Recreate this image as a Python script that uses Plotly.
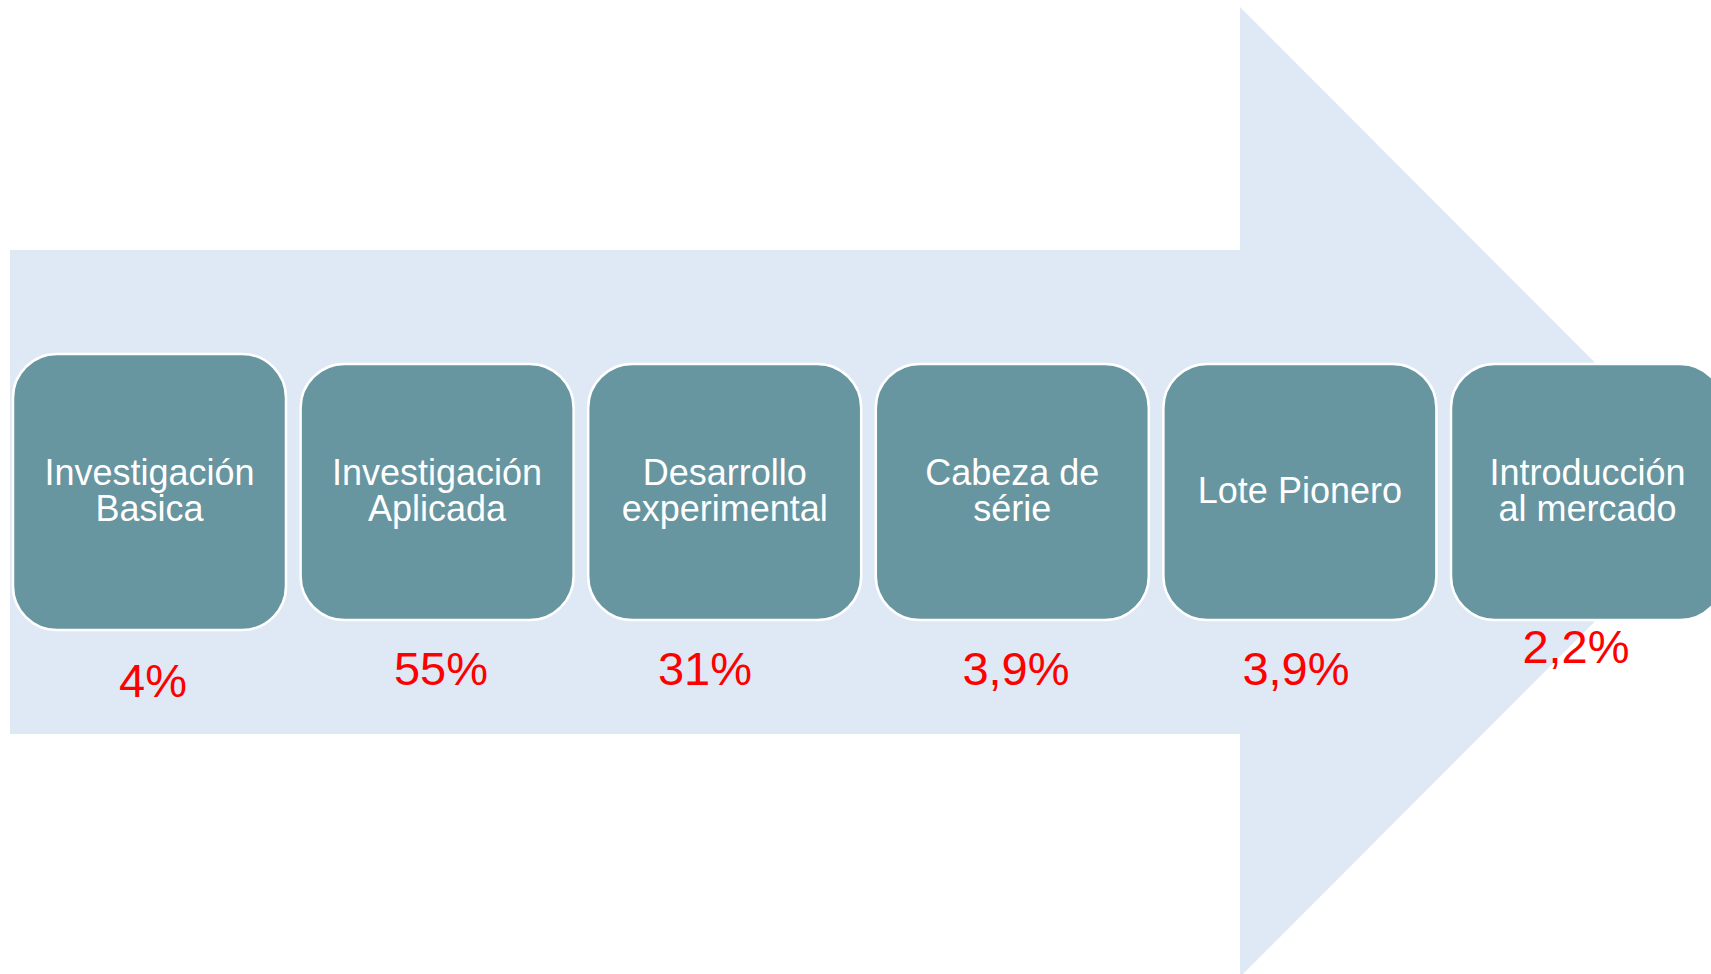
import plotly.graph_objects as go

# ---- data ----
stages = ["Investigación\nBasica", "Investigación\nAplicada", "Desarrollo\nexperimental",
          "Cabeza de\nsérie", "Lote Pionero", "Introducción\nal mercado"]
shares = [4, 55, 31, 3.9, 3.9, 2.2]

# ---- layout constants (pixel-like coordinate space) ----
W, H = 1711, 974
ARROW_COLOR = "#DEE9F5"
BOX_COLOR = "#6795A0"
FONT = "Liberation Sans, Arial, sans-serif"

box_left0, box_pitch, box_w = 13, 287.6, 273
box_top = [354, 364, 364, 364, 364, 364]
box_bot = [630, 620, 620, 620, 620, 620]
radius = 44
label_cy, line_gap = 494, 36
pct_x = [153, 441, 705, 1016, 1296, 1576]
pct_y = [685, 673, 673, 673, 673, 651]

# arrow geometry
shaft_x0, shaft_y0, shaft_y1 = 10, 250, 734
head_x, head_y0, head_y1 = 1240, 7, 977
tip_x, tip_y = 1724, 492


def fmt(v):
    return f"{v:g}".replace(".", ",") + "%"


def rounded_rect(x0, y0, x1, y1, r):
    k = 0.5523 * r
    return (f"M {x0+r},{y0} L {x1-r},{y0} "
            f"C {x1-r+k},{y0} {x1},{y0+r-k} {x1},{y0+r} "
            f"L {x1},{y1-r} "
            f"C {x1},{y1-r+k} {x1-r+k},{y1} {x1-r},{y1} "
            f"L {x0+r},{y1} "
            f"C {x0+r-k},{y1} {x0},{y1-r+k} {x0},{y1-r} "
            f"L {x0},{y0+r} "
            f"C {x0},{y0+r-k} {x0+r-k},{y0} {x0+r},{y0} Z")


shapes = []
arrow_path = (f"M {shaft_x0},{shaft_y0} L {head_x},{shaft_y0} L {head_x},{head_y0} "
              f"L {tip_x},{tip_y} L {head_x},{head_y1} L {head_x},{shaft_y1} "
              f"L {shaft_x0},{shaft_y1} Z")
shapes.append(dict(type="path", path=arrow_path, xref="x", yref="y",
                   fillcolor=ARROW_COLOR, line=dict(width=0), layer="below"))

line_x, line_y, line_t = [], [], []
for i, name in enumerate(stages):
    x0 = box_left0 + i * box_pitch
    x1 = x0 + box_w
    shapes.append(dict(type="path", path=rounded_rect(x0, box_top[i], x1, box_bot[i], radius),
                       xref="x", yref="y", fillcolor=BOX_COLOR,
                       line=dict(color="white", width=2.5), layer="below"))
    lines = name.split("\n")
    n = len(lines)
    cx = (x0 + x1) / 2
    for j, ln in enumerate(lines):
        line_x.append(cx)
        line_y.append(label_cy + (j - (n - 1) / 2) * line_gap)
        line_t.append(ln)

fig = go.Figure()
fig.add_trace(go.Scatter(x=line_x, y=line_y, text=line_t, mode="text",
                         textposition="middle center",
                         textfont=dict(family=FONT, size=36, color="white"),
                         hoverinfo="skip", showlegend=False))
fig.add_trace(go.Scatter(x=pct_x, y=pct_y, text=[fmt(v) for v in shares], mode="text",
                         textposition="middle center",
                         textfont=dict(family=FONT, size=47, color="#FF0000"),
                         hoverinfo="skip", showlegend=False))

fig.update_layout(
    width=W, height=H, margin=dict(l=0, r=0, t=0, b=0),
    paper_bgcolor="white", plot_bgcolor="white",
    shapes=shapes, showlegend=False,
    xaxis=dict(range=[0, W], visible=False, fixedrange=True),
    yaxis=dict(range=[H, 0], visible=False, fixedrange=True),
)

fig.write_html("out.html", config=dict(displayModeBar=False),
               post_script="document.body.style.margin='0';document.body.style.overflow='hidden';")
